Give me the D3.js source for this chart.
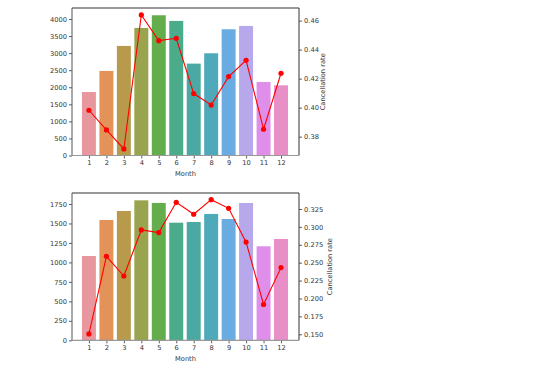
<!DOCTYPE html>
<html><head><meta charset="utf-8">
<script src="https://cdn.jsdelivr.net/npm/d3@7"></script>
<style>body{margin:0;background:#fff}svg{display:block}text{font-family:"DejaVu Sans",sans-serif;fill:#333}</style>
</head><body><svg id="c" width="554" height="379"></svg>
<script>
const months = ["1","2","3","4","5","6","7","8","9","10","11","12"];
const bookings1 = [1862,2478,3211,3739,4110,3944,2693,2996,3700,3797,2155,2057];
const rate1 = [0.3982,0.3846,0.3715,0.4639,0.4462,0.4478,0.4097,0.4018,0.4214,0.4326,0.3851,0.4237];
const bookings2 = [1082,1545,1660,1797,1763,1510,1519,1622,1557,1763,1207,1301];
const rate2 = [0.1505,0.2589,0.2314,0.2957,0.2920,0.3343,0.3176,0.3380,0.3259,0.2787,0.1916,0.2431];
const leftTicks1 = [0,500,1000,1500,2000,2500,3000,3500,4000];
const rightTicks1 = [0.38,0.40,0.42,0.44,0.46];
const leftTicks2 = [0,250,500,750,1000,1250,1500,1750];
const rightTicks2 = [0.150,0.175,0.200,0.225,0.250,0.275,0.300,0.325];
const xLabel = "Month", yRightLabel = "Cancellation rate";
const colors = ['#e9979f','#e3925a','#b89a4c','#9aa34e','#63ad4d','#4aac8b','#4aaaa3','#4ea9bb','#6aace2','#b6a8ea','#df8fe9','#e88fc8'];

const svg = d3.select("#c");
const L = 72, R = 299, FS = 6.7;

function panel(top, bottom, bookings, rate, lt, rt, lMax, rDom, rFmt, labelX) {
  const g = svg.append("g");
  const xi = d3.scaleLinear().domain([-0.97, 12.03]).range([L, R]);
  const bw = xi(0.8) - xi(0);
  const y = d3.scaleLinear().domain([0, lMax]).range([bottom, top]);
  const y2 = d3.scaleLinear().domain(rDom).range([bottom, top]);
  g.selectAll("rect.bar").data(months).join("rect")
    .attr("x", (d,i) => xi(i) - bw/2).attr("width", bw)
    .attr("y", (d,i) => y(bookings[i])).attr("height", (d,i) => bottom - y(bookings[i]))
    .attr("fill", (d,i) => colors[i]);
  const line = d3.line().x((d,i) => xi(i)).y(d => y2(d));
  g.append("path").datum(rate).attr("d", line).attr("fill","none").attr("stroke","#ff0000").attr("stroke-width",1.1);
  g.selectAll("circle").data(rate).join("circle")
    .attr("cx", (d,i) => xi(i)).attr("cy", d => y2(d)).attr("r", 2.6).attr("fill","#ff0000");
  const ax = d3.axisBottom(xi).tickValues(d3.range(12)).tickFormat(i => months[i]).tickSize(3).tickPadding(2);
  const ga = g.append("g").attr("transform",`translate(0,${bottom})`).call(ax);
  const ay = d3.axisLeft(y).tickValues(lt).tickSize(3).tickPadding(2).tickFormat(d3.format("d"));
  const gy = g.append("g").attr("transform",`translate(${L},0)`).call(ay);
  const ay2 = d3.axisRight(y2).tickValues(rt).tickSize(3).tickPadding(2).tickFormat(d3.format(rFmt));
  const gy2 = g.append("g").attr("transform",`translate(${R},0)`).call(ay2);
  [ga, gy, gy2].forEach(s => {
    s.select(".domain").remove();
    s.selectAll(".tick line").attr("stroke","#333").attr("stroke-width",0.8);
    s.selectAll("text").attr("font-size", FS).attr("fill","#333").style("font-family","DejaVu Sans");
  });
  g.append("line").attr("x1",L).attr("x2",R).attr("y1",top).attr("y2",top).attr("stroke","#333").attr("stroke-width",1);
  g.append("line").attr("x1",R).attr("x2",R).attr("y1",top).attr("y2",bottom).attr("stroke","#333").attr("stroke-width",1);
  g.append("line").attr("x1",L).attr("x2",L).attr("y1",top).attr("y2",bottom).attr("stroke","#555").attr("stroke-width",1);
  g.append("line").attr("x1",L).attr("x2",R).attr("y1",bottom).attr("y2",bottom).attr("stroke","#999").attr("stroke-width",1.2);
  g.append("text").attr("x",(L+R)/2).attr("y",bottom+20.5).attr("text-anchor","middle").attr("font-size",FS).text(xLabel);
  g.append("text").attr("transform",`translate(${labelX},${(top+bottom)/2}) rotate(-90)`).attr("text-anchor","middle").attr("dominant-baseline","central").attr("font-size",FS).text(yRightLabel);
}
panel(8, 155.5, bookings1, rate1, leftTicks1, rightTicks1, 4323, [0.367, 0.4687], ".2f", 323);
panel(193, 340.3, bookings2, rate2, leftTicks2, rightTicks2, 1891, [0.1416, 0.3473], ".3f", 329.5);
</script></body></html>
